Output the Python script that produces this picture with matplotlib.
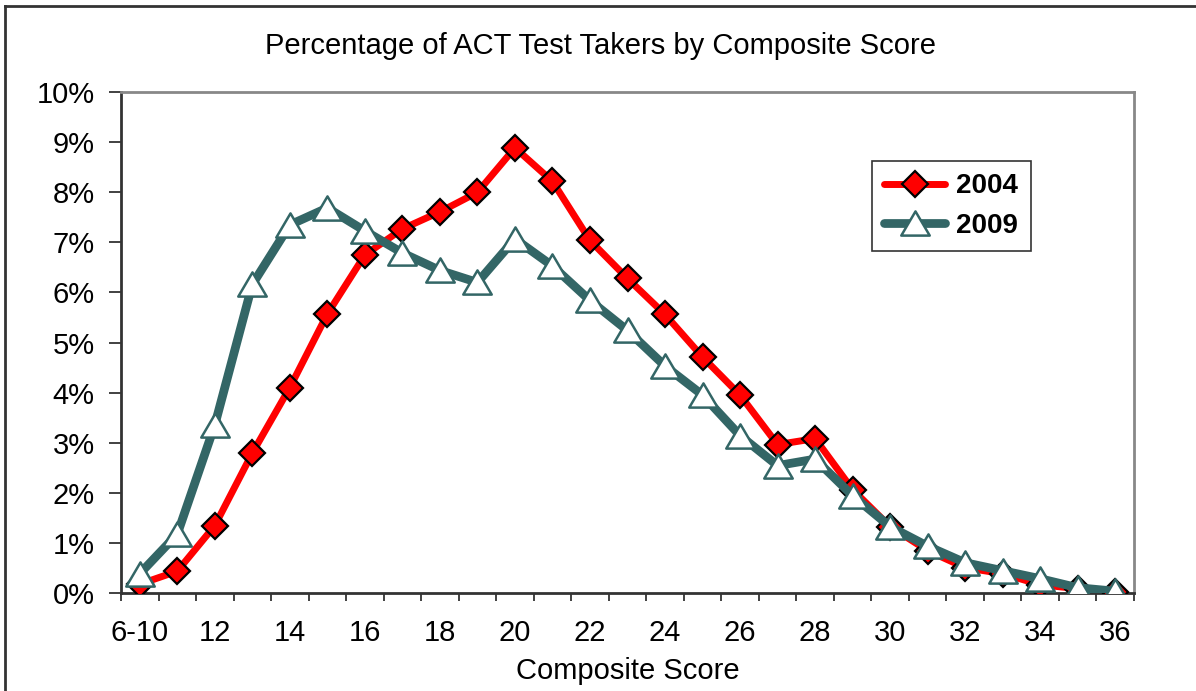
import numpy as np
import matplotlib
matplotlib.use("Agg")
from matplotlib import pyplot as plt
from matplotlib.path import Path
from matplotlib.lines import Line2D
from matplotlib.ticker import FuncFormatter, FixedLocator

scores = ['6-10'] + [str(s) for s in range(11, 37)]
pct_2004 = [0.17, 0.43, 1.34, 2.79, 4.10, 5.57, 6.75, 7.27, 7.61, 8.00, 8.89, 8.22,
            7.04, 6.28, 5.56, 4.71, 3.95, 2.96, 3.08, 2.06, 1.32, 0.84, 0.50, 0.38,
            0.16, 0.08, 0.02]
pct_2009 = [0.38, 1.17, 3.35, 6.16, 7.35, 7.69, 7.23, 6.79, 6.44, 6.20, 7.07, 6.53,
            5.84, 5.24, 4.53, 3.95, 3.14, 2.54, 2.67, 1.94, 1.32, 0.93, 0.60, 0.44,
            0.28, 0.10, 0.03]

RED = '#ff0000'
TEAL = '#336666'
plt.rcParams['font.family'] = ['Liberation Sans', 'DejaVu Sans']

fig = plt.figure(figsize=(11.96, 6.91), dpi=100)
ax = fig.add_axes([121 / 1196, 1 - 592.7 / 691, 1013 / 1196, 500.4 / 691])

# wide triangle, like the Excel marker
tri = Path([(-1, -0.85), (1, -0.85), (0, 0.85), (-1, -0.85)],
           [Path.MOVETO, Path.LINETO, Path.LINETO, Path.CLOSEPOLY])

x = np.arange(len(scores))
ax.plot(x, pct_2004, color=RED, lw=5, marker='D', ms=13, mfc=RED,
        mec='black', mew=1.6, label='2004', zorder=3, solid_capstyle='round')
ax.plot(x, pct_2009, color=TEAL, lw=6.3, marker=tri, ms=20.5, mfc='white',
        mec=TEAL, mew=1.8, label='2009', zorder=4, solid_capstyle='round')

ax.set_xlim(-0.5, len(scores) - 0.5)
ax.set_ylim(0, 10)
ax.set_yticks(np.arange(0, 11, 1))
ax.yaxis.set_major_formatter(FuncFormatter(lambda v, p: f'{int(v)}%'))
ax.xaxis.set_major_locator(FixedLocator(np.arange(-0.5, len(scores), 1)))
ax.set_xticklabels([])
ax.xaxis.set_minor_locator(FixedLocator(x[::2]))
ax.set_xticklabels(scores[::2], minor=True)
ax.tick_params(axis='x', which='major', length=6, width=1.3, color='#333333', direction='out')
ax.tick_params(axis='x', which='minor', length=0, pad=19, labelsize=21)
ax.tick_params(axis='y', length=9, width=1.3, color='#333333', direction='out',
               pad=10, labelsize=21)

for side in ['left', 'bottom']:
    ax.spines[side].set_color('#333333')
    ax.spines[side].set_linewidth(2)
for side in ['top', 'right']:
    ax.spines[side].set_color('#888888')
    ax.spines[side].set_linewidth(2)

ax.set_xlabel('Composite Score', fontsize=21, labelpad=7)
fig.text(0.502, 0.934, 'Percentage of ACT Test Takers by Composite Score',
         ha='center', va='center', fontsize=21)

leg = ax.legend(loc='upper left', bbox_to_anchor=(0.741, 0.863), frameon=True,
                fancybox=False, edgecolor='black', handlelength=2.2,
                prop={'weight': 'bold', 'size': 20}, borderpad=0.45,
                labelspacing=0.48, handletextpad=0.4, borderaxespad=0)
leg.get_frame().set_linewidth(1.2)

# outer chart border (top and left visible)
fig.add_artist(Line2D([5 / 1196, 5 / 1196], [0, 1 - 6 / 691], color='#333333', lw=2))
fig.add_artist(Line2D([5 / 1196, 1], [1 - 6 / 691, 1 - 6 / 691], color='#333333', lw=2))

fig.savefig('out.png', dpi=100)
